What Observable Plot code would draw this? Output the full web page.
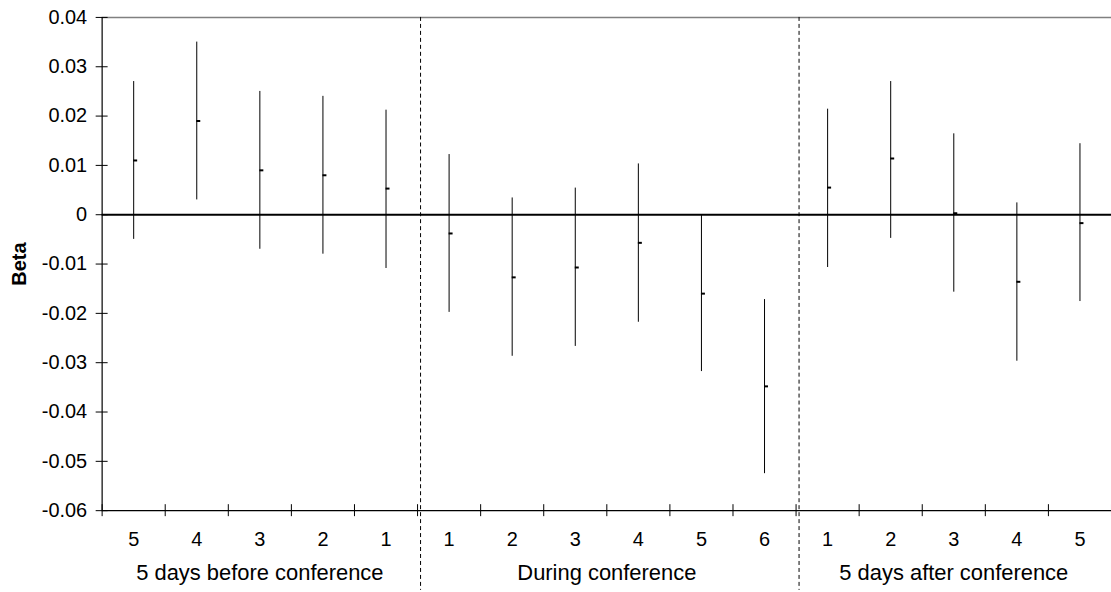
<!DOCTYPE html>
<html><head><meta charset="utf-8">
<script src="https://cdn.jsdelivr.net/npm/d3@7"></script>
<script src="https://cdn.jsdelivr.net/npm/@observablehq/plot@0.6"></script>
<style>html,body{margin:0;padding:0;overflow:hidden;background:#fff}</style>
</head><body><div id="chart"></div>
<script>
const groupNames = ["5 days before conference", "During conference", "5 days after conference"];
const dayLabels = ["5","4","3","2","1","1","2","3","4","5","6","1","2","3","4","5"];
const groupOf =   [0,0,0,0,0,1,1,1,1,1,1,2,2,2,2,2];
const beta =  [0.011, 0.019, 0.009, 0.008, 0.0053, -0.0038, -0.0127, -0.0107, -0.0057, -0.016, -0.0348, 0.0055, 0.0114, 0.0003, -0.0136, -0.0017];
const lower = [-0.005, 0.003, -0.007, -0.008, -0.0109, -0.0198, -0.0287, -0.0267, -0.0218, -0.0318, -0.0525, -0.0107, -0.0048, -0.0157, -0.0297, -0.0176];
const upper = [0.027, 0.035, 0.025, 0.024, 0.0212, 0.0122, 0.0034, 0.0054, 0.0103, 0.0000, -0.0172, 0.0214, 0.027, 0.0164, 0.0024, 0.0144];
const yTicks = [-0.06, -0.05, -0.04, -0.03, -0.02, -0.01, 0, 0.01, 0.02, 0.03, 0.04];
const groupBreaks = [5, 11];

const rows = dayLabels.map((label, i) => ({i, pos: i + 0.5, label, group: groupOf[i], beta: beta[i], lo: lower[i], hi: upper[i]}));
const boundaries = d3.range(dayLabels.length + 1);
const groupRows = groupNames.map((name, g) => ({name, pos: d3.mean(rows.filter(r => r.group === g), r => r.pos)}));
const fmt = d => Math.abs(d) < 1e-9 ? "0" : d.toFixed(2);

const chart = Plot.plot({
  width: 1115, height: 592,
  marginLeft: 102, marginRight: 0, marginTop: 17, marginBottom: 80,
  style: {fontFamily: "'Liberation Sans', Arial, sans-serif", fontSize: "20px", background: "#fff", color: "#000", overflow: "visible"},
  x: {domain: [0, dayLabels.length], axis: null},
  y: {domain: [-0.06, 0.04], axis: null},
  marks: [
    Plot.ruleY([0.04], {stroke: "#808080", strokeWidth: 1.5}),
    Plot.ruleX(groupBreaks, {x: d => d, dx: 3, stroke: "#000", strokeWidth: 1, strokeDasharray: "4,3", insetBottom: -80}),
    Plot.ruleX(rows, {x: "pos", y1: "lo", y2: "hi", stroke: "#000", strokeWidth: 1}),
    Plot.ruleY([0], {stroke: "#000", strokeWidth: 2}),
    Plot.ruleY(rows, {y: "beta", x1: "pos", x2: "pos", insetRight: -4, stroke: "#000", strokeWidth: 2}),
    Plot.ruleX([0], {stroke: "#000", strokeWidth: 1.2}),
    Plot.ruleY([-0.06], {stroke: "#000", strokeWidth: 1.2}),
    Plot.ruleX(boundaries, {x: d => d, insetTop: 489, insetBottom: -6, stroke: "#000", strokeWidth: 1}),
    Plot.ruleY(yTicks, {y: d => d, insetLeft: -6, insetRight: 1007, stroke: "#000", strokeWidth: 1}),
    Plot.axisY({ticks: yTicks, tickSize: 0, tickPadding: 15, tickFormat: fmt, fontSize: 20}),
    Plot.text(rows, {x: "pos", text: "label", frameAnchor: "bottom", dy: 29, lineAnchor: "middle", fontSize: 20}),
    Plot.text(groupRows, {x: "pos", text: "name", frameAnchor: "bottom", dy: 63, lineAnchor: "middle", fontSize: 22}),
    Plot.text(["Beta"], {frameAnchor: "left", dx: -83, rotate: -90, textAnchor: "middle", lineAnchor: "middle", text: d => d, fontWeight: "bold", fontSize: 20})
  ]
});
document.getElementById("chart").appendChild(chart);
</script>
</body></html>
